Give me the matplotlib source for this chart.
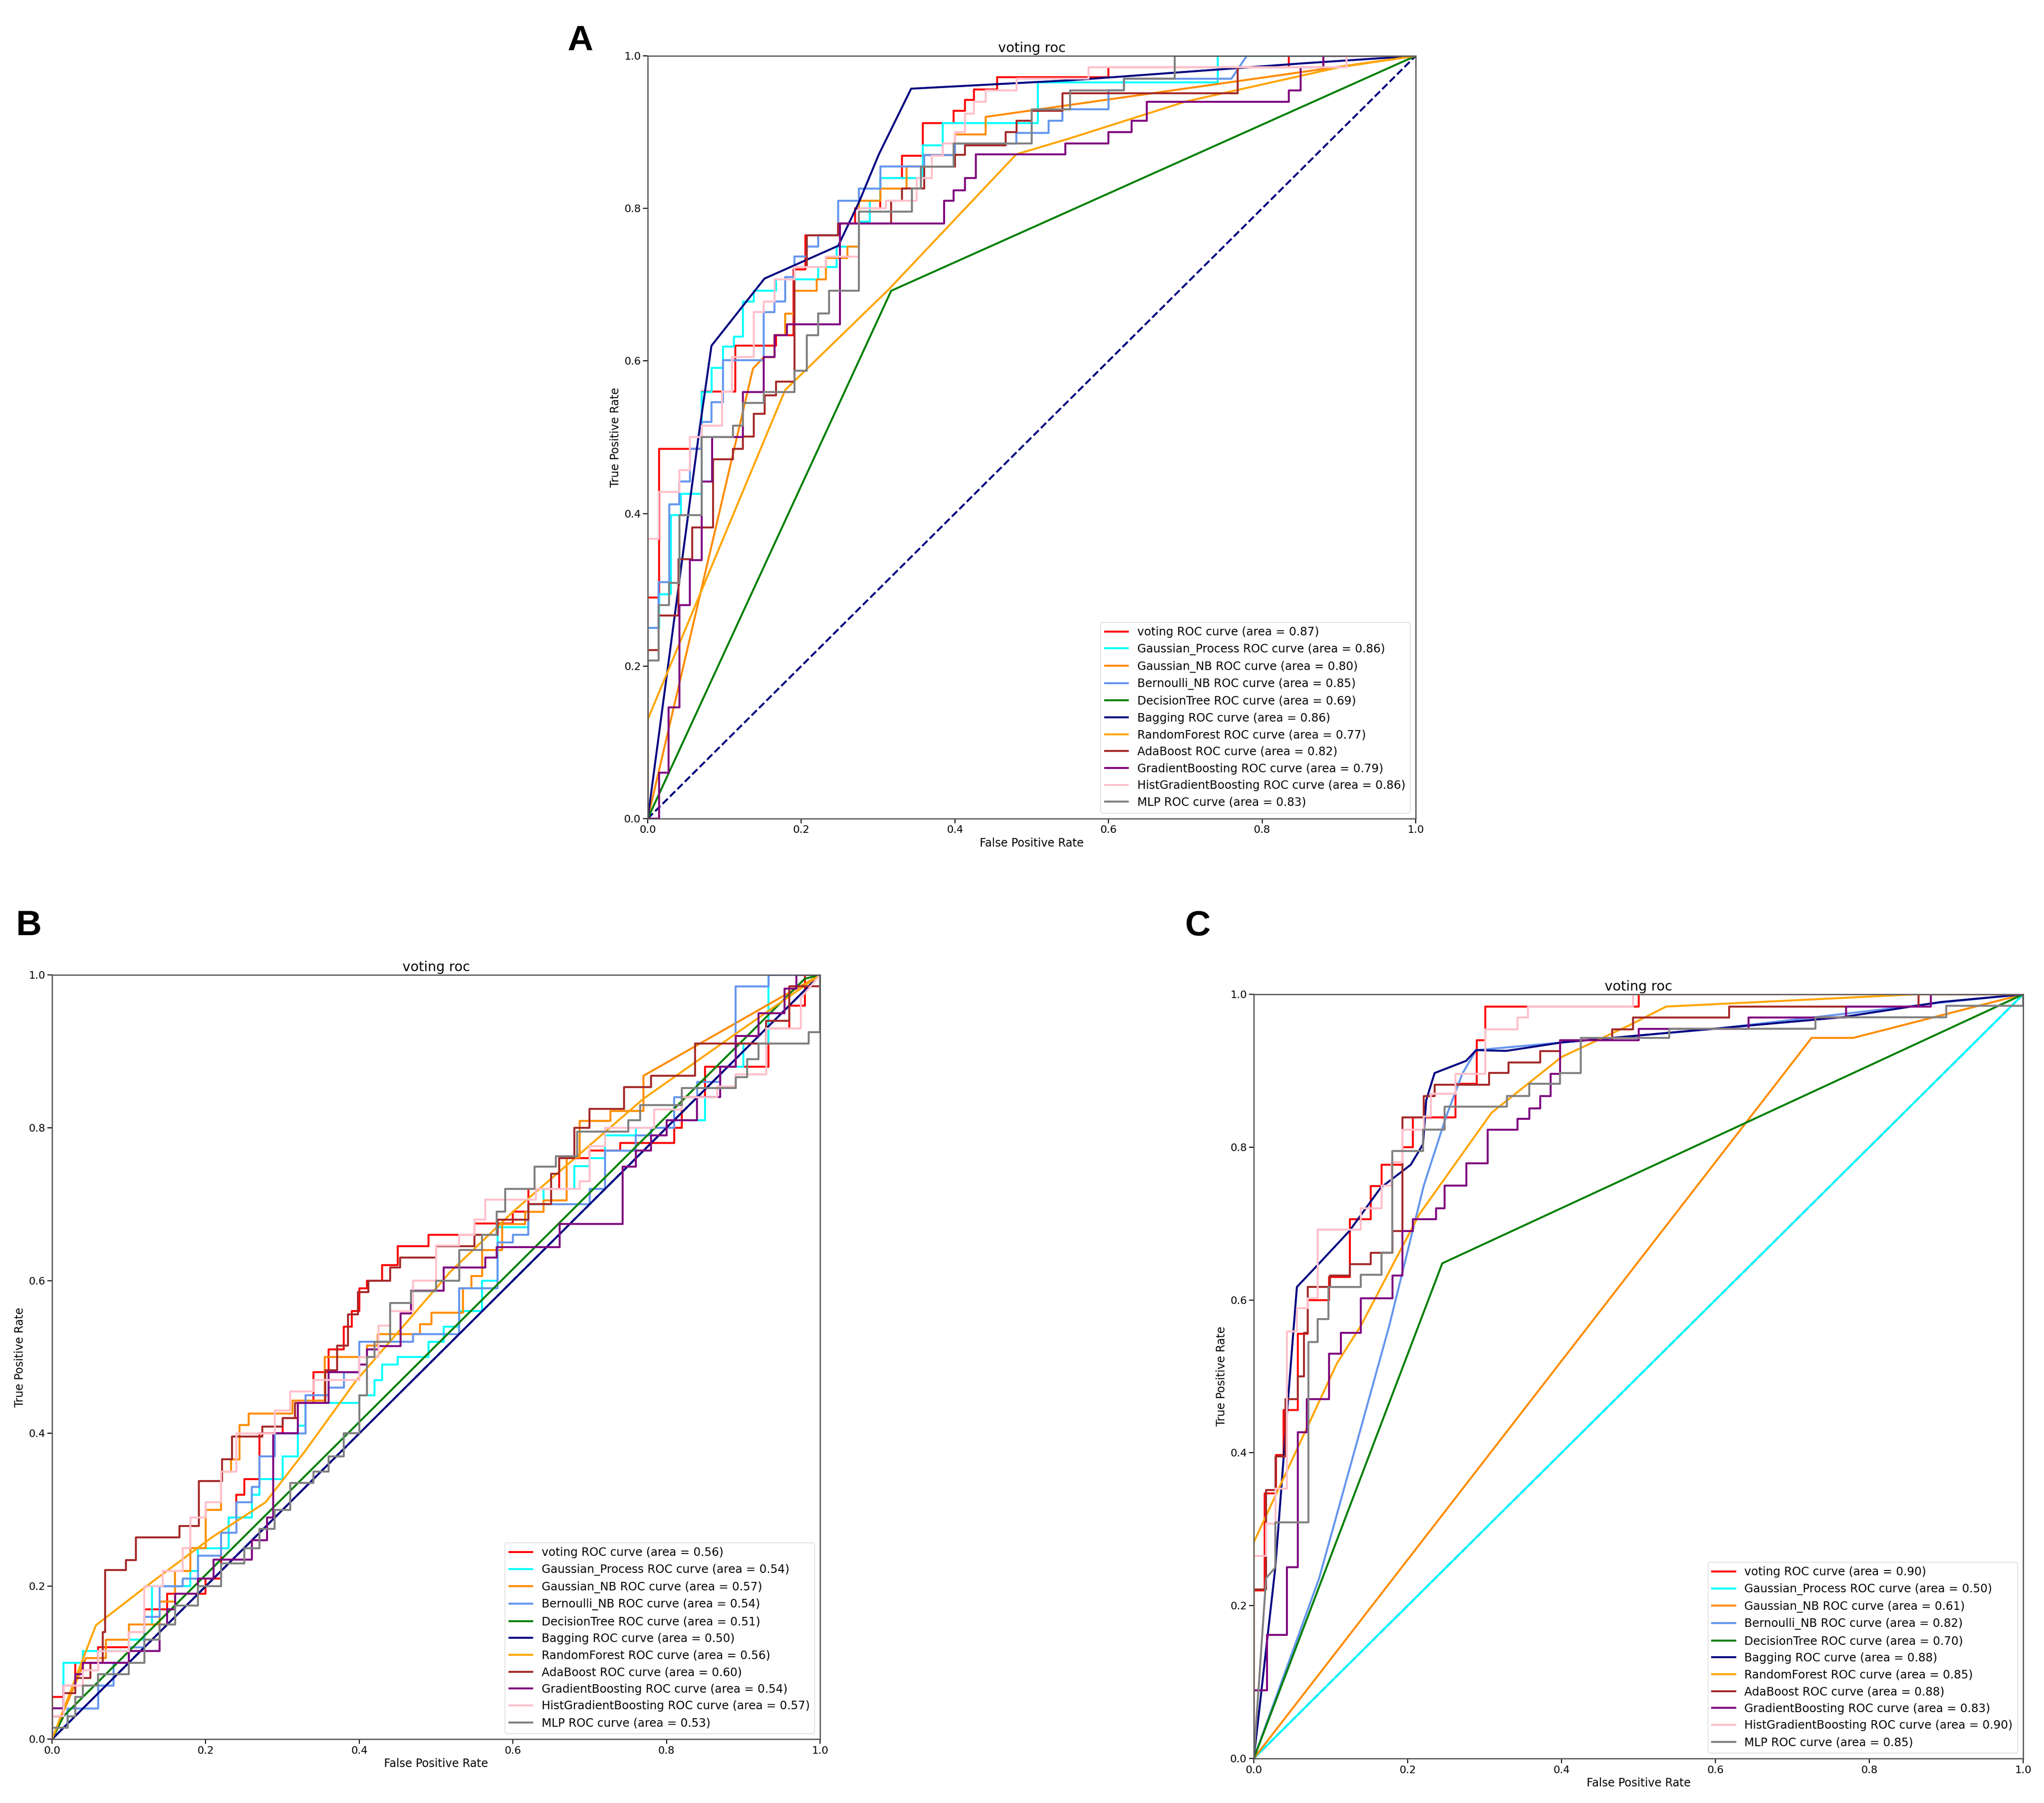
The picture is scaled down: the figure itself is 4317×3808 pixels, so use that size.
import numpy as np
import matplotlib.pyplot as plt

plt.rcParams['font.family'] = ['DejaVu Sans']
plt.rcParams['font.size'] = 17
plt.rcParams['xtick.labelsize'] = 16
plt.rcParams['ytick.labelsize'] = 16
plt.rcParams['axes.linewidth'] = 1.8
plt.rcParams['xtick.major.size'] = 7
plt.rcParams['ytick.major.size'] = 7
plt.rcParams['xtick.major.width'] = 1.6
plt.rcParams['ytick.major.width'] = 1.6

models = ["voting", "Gaussian_Process", "Gaussian_NB", "Bernoulli_NB", "DecisionTree",
          "Bagging", "RandomForest", "AdaBoost", "GradientBoosting",
          "HistGradientBoosting", "MLP"]
colors = ["red", "aqua", "darkorange", "cornflowerblue", "green", "navy",
          "orange", "brown", "purple", "pink", "gray"]

auc_A = [0.87, 0.86, 0.80, 0.85, 0.69, 0.86, 0.77, 0.82, 0.79, 0.86, 0.83]
auc_B = [0.56, 0.54, 0.57, 0.54, 0.51, 0.50, 0.56, 0.60, 0.54, 0.57, 0.53]
auc_C = [0.90, 0.50, 0.61, 0.82, 0.70, 0.88, 0.85, 0.88, 0.83, 0.90, 0.85]

# ---------------- panel A (fpr, tpr) ----------------
A_voting = [(0, 0), (0, 0.29), (0.015, 0.29), (0.015, 0.485), (0.07, 0.485), (0.07, 0.56),
            (0.114, 0.56), (0.114, 0.62), (0.167, 0.62), (0.167, 0.634), (0.19, 0.634),
            (0.19, 0.72), (0.205, 0.72), (0.205, 0.765), (0.25, 0.765), (0.25, 0.78),
            (0.27, 0.78), (0.27, 0.8), (0.303, 0.8), (0.303, 0.84), (0.331, 0.84),
            (0.331, 0.869), (0.358, 0.869), (0.358, 0.912), (0.398, 0.912), (0.398, 0.928),
            (0.413, 0.928), (0.413, 0.942), (0.425, 0.942), (0.425, 0.956), (0.455, 0.956),
            (0.455, 0.972), (0.6, 0.972), (0.6, 0.985), (0.835, 0.985), (0.835, 1.0), (1, 1)]
A_gp = [(0, 0), (0, 0.25), (0.015, 0.25), (0.015, 0.294), (0.03, 0.294), (0.03, 0.398),
        (0.043, 0.398), (0.043, 0.426), (0.07, 0.426), (0.07, 0.559), (0.083, 0.559),
        (0.083, 0.591), (0.098, 0.591), (0.098, 0.619), (0.112, 0.619), (0.112, 0.632),
        (0.124, 0.632), (0.124, 0.678), (0.138, 0.678), (0.138, 0.692), (0.167, 0.692),
        (0.167, 0.707), (0.222, 0.707), (0.222, 0.723), (0.246, 0.723), (0.246, 0.75),
        (0.275, 0.75), (0.275, 0.783), (0.289, 0.783), (0.289, 0.81), (0.303, 0.81),
        (0.303, 0.84), (0.358, 0.84), (0.358, 0.883), (0.384, 0.883), (0.384, 0.912),
        (0.508, 0.912), (0.508, 0.965), (0.742, 0.965), (0.742, 1.0), (1, 1)]
A_gnb = [(0, 0), (0.137, 0.59), (0.151, 0.605), (0.165, 0.605), (0.165, 0.634), (0.179, 0.634),
         (0.179, 0.662), (0.191, 0.662), (0.191, 0.692), (0.22, 0.692), (0.22, 0.707),
         (0.232, 0.707), (0.232, 0.735), (0.26, 0.735), (0.26, 0.75), (0.275, 0.75),
         (0.275, 0.81), (0.303, 0.81), (0.303, 0.826), (0.337, 0.826), (0.337, 0.855),
         (0.36, 0.855), (0.36, 0.87), (0.4, 0.87), (0.4, 0.897), (0.44, 0.897), (0.44, 0.92),
         (1, 1)]
A_bnb = [(0, 0), (0, 0.25), (0.014, 0.25), (0.014, 0.31), (0.028, 0.31), (0.028, 0.412),
         (0.041, 0.412), (0.041, 0.442), (0.055, 0.442), (0.055, 0.485), (0.07, 0.485),
         (0.07, 0.52), (0.083, 0.52), (0.083, 0.546), (0.098, 0.546), (0.098, 0.601),
         (0.151, 0.601), (0.151, 0.664), (0.165, 0.664), (0.165, 0.678), (0.179, 0.678),
         (0.179, 0.71), (0.191, 0.71), (0.191, 0.737), (0.207, 0.737), (0.207, 0.75),
         (0.222, 0.75), (0.222, 0.765), (0.248, 0.765), (0.248, 0.81), (0.275, 0.81),
         (0.275, 0.826), (0.303, 0.826), (0.303, 0.855), (0.36, 0.855), (0.36, 0.87),
         (0.4, 0.87), (0.4, 0.885), (0.48, 0.885), (0.48, 0.899), (0.522, 0.899),
         (0.522, 0.915), (0.54, 0.915), (0.54, 0.93), (0.6, 0.93), (0.6, 0.955),
         (0.62, 0.955), (0.62, 0.97), (0.76, 0.97), (0.78, 1.0), (1, 1)]
A_dt = [(0, 0), (0.317, 0.692), (1, 1)]
A_bag = [(0, 0), (0.066, 0.5), (0.083, 0.62), (0.152, 0.708), (0.248, 0.751), (0.275, 0.808),
         (0.301, 0.871), (0.343, 0.957), (0.55, 0.968), (0.85, 0.99), (1, 1)]
A_rf = [(0, 0), (0, 0.13), (0.179, 0.562), (0.314, 0.694), (0.48, 0.871), (0.55, 0.892),
        (0.7, 0.94), (0.9, 0.985), (1, 1)]
A_ada = [(0, 0), (0, 0.221), (0.014, 0.221), (0.014, 0.266), (0.04, 0.266), (0.04, 0.34),
         (0.058, 0.34), (0.058, 0.382), (0.085, 0.382), (0.085, 0.471), (0.111, 0.471),
         (0.111, 0.485), (0.124, 0.485), (0.124, 0.501), (0.138, 0.501), (0.138, 0.531),
         (0.152, 0.531), (0.152, 0.555), (0.167, 0.555), (0.167, 0.573), (0.191, 0.573),
         (0.191, 0.723), (0.207, 0.723), (0.207, 0.765), (0.248, 0.765), (0.248, 0.78),
         (0.317, 0.78), (0.317, 0.81), (0.331, 0.81), (0.331, 0.826), (0.36, 0.826),
         (0.36, 0.855), (0.4, 0.855), (0.4, 0.87), (0.413, 0.87), (0.413, 0.883),
         (0.466, 0.883), (0.466, 0.9), (0.48, 0.9), (0.48, 0.915), (0.5, 0.915),
         (0.5, 0.928), (0.54, 0.928), (0.54, 0.951), (0.768, 0.951), (0.768, 0.985),
         (0.88, 0.985), (0.88, 1.0), (1, 1)]
A_gb = [(0, 0), (0.015, 0), (0.015, 0.06), (0.027, 0.06), (0.027, 0.146), (0.041, 0.146),
        (0.041, 0.28), (0.055, 0.28), (0.055, 0.339), (0.07, 0.339), (0.07, 0.442),
        (0.084, 0.442), (0.084, 0.5), (0.124, 0.5), (0.124, 0.559), (0.151, 0.559),
        (0.151, 0.605), (0.165, 0.605), (0.165, 0.634), (0.181, 0.634), (0.181, 0.648),
        (0.25, 0.648), (0.25, 0.78), (0.386, 0.78), (0.386, 0.81), (0.398, 0.81),
        (0.398, 0.824), (0.413, 0.824), (0.413, 0.84), (0.427, 0.84), (0.427, 0.871),
        (0.544, 0.871), (0.544, 0.885), (0.6, 0.885), (0.6, 0.9), (0.63, 0.9),
        (0.63, 0.915), (0.65, 0.915), (0.65, 0.94), (0.835, 0.94), (0.835, 0.955),
        (0.85, 0.955), (0.85, 0.985), (0.88, 0.985), (0.88, 1.0), (1, 1)]
A_hgb = [(0, 0), (0, 0.367), (0.014, 0.367), (0.014, 0.428), (0.041, 0.428), (0.041, 0.457),
         (0.055, 0.457), (0.055, 0.5), (0.07, 0.5), (0.07, 0.515), (0.097, 0.515),
         (0.097, 0.56), (0.11, 0.56), (0.11, 0.605), (0.138, 0.605), (0.138, 0.664),
         (0.151, 0.664), (0.151, 0.678), (0.165, 0.678), (0.165, 0.707), (0.191, 0.707),
         (0.191, 0.723), (0.232, 0.723), (0.232, 0.737), (0.275, 0.737), (0.275, 0.8),
         (0.31, 0.8), (0.31, 0.81), (0.35, 0.81), (0.35, 0.84), (0.37, 0.84), (0.37, 0.869),
         (0.384, 0.869), (0.384, 0.885), (0.4, 0.885), (0.4, 0.9), (0.413, 0.9),
         (0.413, 0.924), (0.425, 0.924), (0.425, 0.94), (0.44, 0.94), (0.44, 0.955),
         (0.48, 0.955), (0.48, 0.97), (0.574, 0.97), (0.574, 0.985), (0.91, 0.985),
         (0.91, 1.0), (1, 1)]
A_mlp = [(0, 0), (0, 0.207), (0.014, 0.207), (0.014, 0.28), (0.028, 0.28), (0.028, 0.309),
         (0.041, 0.309), (0.041, 0.398), (0.07, 0.398), (0.07, 0.5), (0.111, 0.5),
         (0.111, 0.515), (0.124, 0.515), (0.124, 0.545), (0.151, 0.545), (0.151, 0.559),
         (0.191, 0.559), (0.191, 0.587), (0.207, 0.587), (0.207, 0.634), (0.222, 0.634),
         (0.222, 0.662), (0.236, 0.662), (0.236, 0.692), (0.275, 0.692), (0.275, 0.796),
         (0.344, 0.796), (0.344, 0.826), (0.356, 0.826), (0.356, 0.855), (0.398, 0.855),
         (0.398, 0.885), (0.5, 0.885), (0.5, 0.93), (0.55, 0.93), (0.55, 0.955),
         (0.62, 0.955), (0.62, 0.97), (0.686, 0.97), (0.686, 1.0), (1, 1)]

# ---------------- panel B ----------------
B_voting = [(0, 0), (0, 0.055), (0.015, 0.055), (0.015, 0.07), (0.03, 0.07), (0.03, 0.1),
            (0.06, 0.1), (0.06, 0.12), (0.1, 0.12), (0.1, 0.14), (0.12, 0.14), (0.12, 0.17),
            (0.15, 0.17), (0.15, 0.19), (0.2, 0.19), (0.2, 0.21), (0.22, 0.21), (0.22, 0.25),
            (0.23, 0.25), (0.23, 0.29), (0.24, 0.29), (0.24, 0.32), (0.25, 0.32), (0.25, 0.34),
            (0.27, 0.34), (0.27, 0.4), (0.3, 0.4), (0.3, 0.42), (0.32, 0.42), (0.32, 0.44),
            (0.34, 0.44), (0.34, 0.48), (0.36, 0.48), (0.36, 0.51), (0.38, 0.51), (0.38, 0.54),
            (0.39, 0.54), (0.39, 0.56), (0.4, 0.56), (0.4, 0.59), (0.41, 0.59), (0.41, 0.6),
            (0.43, 0.6), (0.43, 0.62), (0.45, 0.62), (0.45, 0.645), (0.49, 0.645),
            (0.49, 0.66), (0.55, 0.66), (0.55, 0.675), (0.6, 0.675), (0.6, 0.69), (0.62, 0.69),
            (0.62, 0.72), (0.66, 0.72), (0.66, 0.76), (0.7, 0.76), (0.7, 0.77), (0.74, 0.77),
            (0.74, 0.78), (0.81, 0.78), (0.81, 0.8), (0.82, 0.8), (0.82, 0.84), (0.85, 0.84),
            (0.85, 0.88), (0.933, 0.88), (0.933, 0.93), (0.96, 0.93), (0.96, 0.96),
            (0.98, 0.96), (0.98, 1.0), (1, 1)]
B_gp = [(0, 0), (0, 0.03), (0.015, 0.03), (0.015, 0.1), (0.04, 0.1), (0.04, 0.115),
        (0.1, 0.115), (0.1, 0.13), (0.12, 0.13), (0.12, 0.15), (0.13, 0.15), (0.13, 0.2),
        (0.18, 0.2), (0.18, 0.22), (0.19, 0.22), (0.19, 0.25), (0.23, 0.25), (0.23, 0.29),
        (0.26, 0.29), (0.26, 0.32), (0.27, 0.32), (0.27, 0.34), (0.3, 0.34), (0.3, 0.37),
        (0.32, 0.37), (0.32, 0.41), (0.33, 0.41), (0.33, 0.44), (0.4, 0.44), (0.4, 0.45),
        (0.42, 0.45), (0.42, 0.47), (0.43, 0.47), (0.43, 0.49), (0.45, 0.49), (0.45, 0.5),
        (0.49, 0.5), (0.49, 0.52), (0.51, 0.52), (0.51, 0.54), (0.53, 0.54), (0.53, 0.56),
        (0.56, 0.56), (0.56, 0.6), (0.58, 0.6), (0.58, 0.67), (0.62, 0.67), (0.62, 0.7),
        (0.64, 0.7), (0.64, 0.72), (0.68, 0.72), (0.68, 0.75), (0.7, 0.75), (0.7, 0.76),
        (0.72, 0.76), (0.72, 0.79), (0.76, 0.79), (0.76, 0.8), (0.8, 0.8), (0.8, 0.81),
        (0.85, 0.81), (0.85, 0.84), (0.87, 0.84), (0.87, 0.88), (0.9, 0.88), (0.9, 0.91),
        (0.933, 0.91), (0.933, 1.0), (1, 1)]
B_gnb = [(0, 0), (0.044, 0.106), (0.07, 0.106), (0.07, 0.13), (0.1, 0.13), (0.1, 0.15),
         (0.14, 0.15), (0.14, 0.18), (0.16, 0.18), (0.16, 0.22), (0.18, 0.22), (0.18, 0.25),
         (0.2, 0.25), (0.2, 0.3), (0.22, 0.3), (0.22, 0.35), (0.233, 0.35), (0.233, 0.366),
         (0.244, 0.366), (0.244, 0.411), (0.256, 0.411), (0.256, 0.426), (0.313, 0.426),
         (0.313, 0.443), (0.355, 0.443), (0.355, 0.5), (0.41, 0.5), (0.41, 0.515),
         (0.424, 0.515), (0.424, 0.53), (0.479, 0.53), (0.479, 0.543), (0.494, 0.543),
         (0.494, 0.558), (0.535, 0.558), (0.535, 0.59), (0.546, 0.59), (0.546, 0.606),
         (0.56, 0.606), (0.56, 0.64), (0.586, 0.64), (0.586, 0.674), (0.616, 0.674),
         (0.616, 0.69), (0.64, 0.69), (0.64, 0.705), (0.67, 0.705), (0.67, 0.761),
         (0.687, 0.761), (0.687, 0.809), (0.727, 0.809), (0.727, 0.822), (0.77, 0.822),
         (0.77, 0.868), (1, 1)]
B_bnb = [(0, 0), (0.02, 0.02), (0.02, 0.04), (0.06, 0.04), (0.06, 0.07), (0.08, 0.07),
         (0.08, 0.1), (0.1, 0.1), (0.1, 0.12), (0.12, 0.12), (0.12, 0.16), (0.14, 0.16),
         (0.14, 0.2), (0.17, 0.2), (0.17, 0.21), (0.19, 0.21), (0.19, 0.24), (0.22, 0.24),
         (0.22, 0.27), (0.24, 0.27), (0.24, 0.31), (0.26, 0.31), (0.26, 0.33), (0.27, 0.33),
         (0.27, 0.37), (0.29, 0.37), (0.29, 0.4), (0.33, 0.4), (0.33, 0.45), (0.36, 0.45),
         (0.36, 0.46), (0.38, 0.46), (0.38, 0.48), (0.4, 0.48), (0.4, 0.52), (0.47, 0.52),
         (0.47, 0.53), (0.53, 0.53), (0.53, 0.59), (0.58, 0.59), (0.58, 0.65), (0.6, 0.65),
         (0.6, 0.66), (0.62, 0.66), (0.62, 0.7), (0.7, 0.7), (0.7, 0.72), (0.72, 0.72),
         (0.72, 0.77), (0.76, 0.77), (0.76, 0.79), (0.78, 0.79), (0.78, 0.8), (0.81, 0.8),
         (0.81, 0.84), (0.84, 0.84), (0.84, 0.86), (0.87, 0.86), (0.87, 0.88), (0.89, 0.88),
         (0.89, 0.985), (0.933, 0.985), (0.933, 1.0), (1, 1)]
B_dt = [(0, 0), (0.015, 0.03), (0.98, 0.995), (1, 1)]
B_bag = [(0, 0), (1, 1)]
B_rf = [(0, 0), (0.057, 0.149), (0.128, 0.204), (0.208, 0.264), (0.278, 0.31), (0.328, 0.375),
        (0.395, 0.468), (0.518, 0.611), (0.6, 0.69), (0.77, 0.838), (0.9, 0.93), (1, 1)]
B_ada = [(0, 0), (0, 0.03), (0.015, 0.03), (0.015, 0.06), (0.03, 0.06), (0.03, 0.08),
         (0.05, 0.08), (0.05, 0.1), (0.066, 0.1), (0.066, 0.14), (0.069, 0.14), (0.069, 0.221),
         (0.096, 0.221), (0.096, 0.234), (0.109, 0.234), (0.109, 0.264), (0.166, 0.264),
         (0.166, 0.279), (0.191, 0.279), (0.191, 0.338), (0.221, 0.338), (0.221, 0.366),
         (0.234, 0.366), (0.234, 0.396), (0.274, 0.396), (0.274, 0.409), (0.3, 0.409),
         (0.3, 0.42), (0.316, 0.42), (0.316, 0.44), (0.356, 0.44), (0.356, 0.483),
         (0.371, 0.483), (0.371, 0.515), (0.385, 0.515), (0.385, 0.556), (0.398, 0.556),
         (0.398, 0.585), (0.412, 0.585), (0.412, 0.6), (0.44, 0.6), (0.44, 0.617),
         (0.453, 0.617), (0.453, 0.63), (0.5, 0.63), (0.5, 0.645), (0.55, 0.645),
         (0.55, 0.66), (0.58, 0.66), (0.58, 0.68), (0.62, 0.68), (0.62, 0.7), (0.65, 0.7),
         (0.65, 0.74), (0.66, 0.74), (0.66, 0.76), (0.68, 0.76), (0.68, 0.8), (0.7, 0.8),
         (0.7, 0.825), (0.745, 0.825), (0.745, 0.853), (0.78, 0.853), (0.78, 0.868),
         (0.837, 0.868), (0.837, 0.91), (0.93, 0.91), (0.93, 0.94), (0.96, 0.94),
         (0.96, 0.985), (1.0, 0.985), (1, 1)]
B_gb = [(0, 0), (0, 0.04), (0.015, 0.04), (0.015, 0.07), (0.03, 0.07), (0.03, 0.085),
        (0.04, 0.085), (0.04, 0.1), (0.1, 0.1), (0.1, 0.115), (0.14, 0.115), (0.14, 0.15),
        (0.15, 0.15), (0.15, 0.17), (0.16, 0.17), (0.16, 0.19), (0.19, 0.19), (0.19, 0.21),
        (0.21, 0.21), (0.21, 0.235), (0.26, 0.235), (0.26, 0.26), (0.28, 0.26), (0.28, 0.29),
        (0.288, 0.29), (0.288, 0.4), (0.32, 0.4), (0.32, 0.44), (0.36, 0.44), (0.36, 0.48),
        (0.4, 0.48), (0.4, 0.49), (0.41, 0.49), (0.41, 0.51), (0.425, 0.51), (0.425, 0.514),
        (0.454, 0.514), (0.454, 0.557), (0.467, 0.557), (0.467, 0.587), (0.51, 0.587),
        (0.51, 0.617), (0.564, 0.617), (0.564, 0.63), (0.579, 0.63), (0.579, 0.644),
        (0.661, 0.644), (0.661, 0.674), (0.743, 0.674), (0.743, 0.749), (0.76, 0.749),
        (0.76, 0.77), (0.78, 0.77), (0.78, 0.79), (0.8, 0.79), (0.8, 0.81), (0.84, 0.81),
        (0.84, 0.84), (0.87, 0.84), (0.87, 0.88), (0.89, 0.88), (0.89, 0.92), (0.92, 0.92),
        (0.92, 0.95), (0.954, 0.95), (0.954, 0.982), (0.969, 0.982), (0.969, 1.0), (1, 1)]
B_hgb = [(0, 0), (0, 0.03), (0.015, 0.03), (0.015, 0.07), (0.04, 0.07), (0.04, 0.09),
         (0.06, 0.09), (0.06, 0.115), (0.1, 0.115), (0.1, 0.14), (0.12, 0.14), (0.12, 0.2),
         (0.144, 0.2), (0.144, 0.22), (0.17, 0.22), (0.17, 0.25), (0.18, 0.25), (0.18, 0.29),
         (0.2, 0.29), (0.2, 0.31), (0.22, 0.31), (0.22, 0.35), (0.24, 0.35), (0.24, 0.4),
         (0.29, 0.4), (0.29, 0.43), (0.31, 0.43), (0.31, 0.455), (0.34, 0.455), (0.34, 0.47),
         (0.4, 0.47), (0.4, 0.5), (0.425, 0.5), (0.425, 0.541), (0.44, 0.541), (0.44, 0.56),
         (0.47, 0.56), (0.47, 0.6), (0.5, 0.6), (0.5, 0.646), (0.53, 0.646), (0.53, 0.66),
         (0.55, 0.66), (0.55, 0.68), (0.564, 0.68), (0.564, 0.706), (0.63, 0.706),
         (0.63, 0.72), (0.687, 0.72), (0.687, 0.73), (0.7, 0.73), (0.7, 0.776), (0.72, 0.776),
         (0.72, 0.8), (0.784, 0.8), (0.784, 0.824), (0.82, 0.824), (0.82, 0.84),
         (0.866, 0.84), (0.866, 0.854), (0.89, 0.854), (0.89, 0.87), (0.93, 0.87),
         (0.93, 0.93), (0.975, 0.93), (0.975, 0.97), (1, 1)]
B_mlp = [(0, 0), (0, 0.015), (0.02, 0.015), (0.02, 0.03), (0.03, 0.03), (0.03, 0.055),
         (0.04, 0.055), (0.04, 0.07), (0.06, 0.07), (0.06, 0.085), (0.1, 0.085), (0.1, 0.1),
         (0.12, 0.1), (0.12, 0.13), (0.14, 0.13), (0.14, 0.15), (0.16, 0.15), (0.16, 0.175),
         (0.19, 0.175), (0.19, 0.2), (0.22, 0.2), (0.22, 0.23), (0.25, 0.23), (0.25, 0.25),
         (0.27, 0.25), (0.27, 0.275), (0.29, 0.275), (0.29, 0.3), (0.31, 0.3), (0.31, 0.335),
         (0.34, 0.335), (0.34, 0.35), (0.36, 0.35), (0.36, 0.37), (0.38, 0.37), (0.38, 0.4),
         (0.4, 0.4), (0.4, 0.45), (0.41, 0.45), (0.41, 0.5), (0.42, 0.5), (0.42, 0.52),
         (0.44, 0.52), (0.44, 0.571), (0.467, 0.571), (0.467, 0.586), (0.5, 0.586),
         (0.5, 0.6), (0.53, 0.6), (0.53, 0.64), (0.56, 0.64), (0.56, 0.66), (0.579, 0.66),
         (0.579, 0.69), (0.59, 0.69), (0.59, 0.72), (0.628, 0.72), (0.628, 0.749),
         (0.656, 0.749), (0.656, 0.763), (0.684, 0.763), (0.684, 0.795), (0.75, 0.795),
         (0.75, 0.81), (0.766, 0.81), (0.766, 0.83), (0.82, 0.83), (0.82, 0.852),
         (0.89, 0.852), (0.89, 0.866), (0.905, 0.866), (0.905, 0.89), (0.92, 0.89),
         (0.92, 0.91), (0.985, 0.91), (0.985, 0.925), (1.0, 0.925), (1, 1)]

# ---------------- panel C ----------------
C_voting = [(0, 0), (0, 0.22), (0.014, 0.22), (0.014, 0.347), (0.029, 0.347), (0.029, 0.397),
            (0.039, 0.397), (0.039, 0.456), (0.057, 0.456), (0.057, 0.556), (0.07, 0.556),
            (0.07, 0.6), (0.098, 0.6), (0.098, 0.63), (0.125, 0.63), (0.125, 0.706),
            (0.152, 0.706), (0.152, 0.749), (0.166, 0.749), (0.166, 0.777), (0.193, 0.777),
            (0.193, 0.8), (0.207, 0.8), (0.207, 0.839), (0.262, 0.839), (0.262, 0.883),
            (0.29, 0.883), (0.29, 0.94), (0.301, 0.94), (0.301, 0.984), (0.5, 0.984),
            (0.5, 1.0), (1, 1)]
C_gp = [(0, 0), (1, 1)]
C_gnb = [(0, 0), (0.725, 0.943), (0.779, 0.943), (1, 1)]
C_bnb = [(0, 0), (0.085, 0.236), (0.176, 0.566), (0.221, 0.75), (0.25, 0.84), (0.271, 0.896),
         (0.289, 0.927), (0.4, 0.937), (0.6, 0.955), (0.9, 0.99), (1, 1)]
C_dt = [(0, 0), (0.245, 0.648), (1, 1)]
C_bag = [(0, 0), (0.028, 0.25), (0.044, 0.463), (0.056, 0.617), (0.086, 0.649), (0.124, 0.69),
         (0.165, 0.747), (0.204, 0.777), (0.22, 0.804), (0.224, 0.861), (0.235, 0.897),
         (0.276, 0.913), (0.289, 0.927), (0.328, 0.926), (0.4, 0.937), (0.487, 0.945),
         (0.62, 0.957), (0.764, 0.97), (0.893, 0.99), (1, 1)]
C_rf = [(0, 0), (0, 0.283), (0.108, 0.517), (0.139, 0.566), (0.215, 0.712), (0.309, 0.845),
        (0.4, 0.918), (0.487, 0.959), (0.536, 0.984), (0.86, 1.0), (1, 1)]
C_ada = [(0, 0), (0, 0.221), (0.016, 0.221), (0.016, 0.351), (0.028, 0.351), (0.028, 0.395),
         (0.041, 0.395), (0.041, 0.47), (0.057, 0.47), (0.057, 0.5), (0.065, 0.5),
         (0.065, 0.557), (0.07, 0.557), (0.07, 0.617), (0.099, 0.617), (0.099, 0.632),
         (0.125, 0.632), (0.125, 0.647), (0.152, 0.647), (0.152, 0.662), (0.18, 0.662),
         (0.18, 0.69), (0.193, 0.69), (0.193, 0.839), (0.221, 0.839), (0.221, 0.867),
         (0.235, 0.867), (0.235, 0.882), (0.306, 0.882), (0.306, 0.897), (0.331, 0.897),
         (0.331, 0.911), (0.372, 0.911), (0.372, 0.926), (0.398, 0.926), (0.398, 0.94),
         (0.466, 0.94), (0.466, 0.954), (0.493, 0.954), (0.493, 0.97), (0.618, 0.97),
         (0.618, 0.984), (0.864, 0.984), (0.864, 1.0), (1, 1)]
C_gb = [(0, 0), (0, 0.089), (0.017, 0.089), (0.017, 0.162), (0.043, 0.162), (0.043, 0.25),
        (0.057, 0.25), (0.057, 0.427), (0.069, 0.427), (0.069, 0.47), (0.098, 0.47),
        (0.098, 0.53), (0.113, 0.53), (0.113, 0.557), (0.139, 0.557), (0.139, 0.602),
        (0.18, 0.602), (0.18, 0.632), (0.193, 0.632), (0.193, 0.69), (0.207, 0.69),
        (0.207, 0.706), (0.237, 0.706), (0.237, 0.72), (0.248, 0.72), (0.248, 0.75),
        (0.276, 0.75), (0.276, 0.779), (0.304, 0.779), (0.304, 0.823), (0.343, 0.823),
        (0.343, 0.837), (0.358, 0.837), (0.358, 0.851), (0.372, 0.851), (0.372, 0.867),
        (0.386, 0.867), (0.386, 0.896), (0.398, 0.896), (0.398, 0.94), (0.5, 0.94),
        (0.5, 0.955), (0.643, 0.955), (0.643, 0.97), (0.77, 0.97), (0.77, 0.984),
        (0.88, 0.984), (0.88, 1.0), (1, 1)]
C_hgb = [(0, 0), (0, 0.265), (0.016, 0.265), (0.016, 0.307), (0.028, 0.307), (0.028, 0.353),
         (0.043, 0.353), (0.043, 0.559), (0.056, 0.559), (0.056, 0.589), (0.07, 0.589),
         (0.07, 0.602), (0.083, 0.602), (0.083, 0.692), (0.139, 0.692), (0.139, 0.72),
         (0.166, 0.72), (0.166, 0.75), (0.179, 0.75), (0.179, 0.78), (0.193, 0.78),
         (0.193, 0.823), (0.221, 0.823), (0.221, 0.84), (0.23, 0.84), (0.23, 0.87),
         (0.262, 0.87), (0.262, 0.896), (0.301, 0.896), (0.301, 0.954), (0.343, 0.954),
         (0.343, 0.97), (0.356, 0.97), (0.356, 0.984), (0.493, 0.984), (0.493, 1.0), (1, 1)]
C_mlp = [(0, 0), (0.016, 0.236), (0.028, 0.25), (0.028, 0.309), (0.071, 0.309), (0.071, 0.545),
         (0.083, 0.545), (0.083, 0.575), (0.097, 0.575), (0.097, 0.617), (0.139, 0.617),
         (0.139, 0.633), (0.166, 0.633), (0.166, 0.662), (0.18, 0.662), (0.18, 0.795),
         (0.22, 0.795), (0.22, 0.823), (0.248, 0.823), (0.248, 0.853), (0.329, 0.853),
         (0.329, 0.867), (0.358, 0.867), (0.358, 0.883), (0.398, 0.883), (0.398, 0.897),
         (0.425, 0.897), (0.425, 0.943), (0.54, 0.943), (0.54, 0.955), (0.73, 0.955),
         (0.73, 0.97), (0.9, 0.97), (0.9, 0.985), (1.0, 0.985), (1, 1)]

curves_A = [A_voting, A_gp, A_gnb, A_bnb, A_dt, A_bag, A_rf, A_ada, A_gb, A_hgb, A_mlp]
curves_B = [B_voting, B_gp, B_gnb, B_bnb, B_dt, B_bag, B_rf, B_ada, B_gb, B_hgb, B_mlp]
curves_C = [C_voting, C_gp, C_gnb, C_bnb, C_dt, C_bag, C_rf, C_ada, C_gb, C_hgb, C_mlp]

lw = 3
fig = plt.figure(figsize=(43.17, 38.08), dpi=100)


def draw_panel(rect, curves, aucs, letter, letter_pos):
    ax = fig.add_axes(rect)
    ax.plot([0, 1], [0, 1], color='navy', lw=lw, linestyle='--')
    for name, color, pts, auc in zip(models, colors, curves, aucs):
        pts = np.array(pts)
        ax.plot(pts[:, 0], pts[:, 1], color=color, lw=lw,
                label='%s ROC curve (area = %0.2f)' % (name, auc))
    ax.set_xlim([0.0, 1.0])
    ax.set_ylim([0.0, 1.0])
    ax.set_xticks([0, 0.2, 0.4, 0.6, 0.8, 1.0])
    ax.set_yticks([0, 0.2, 0.4, 0.6, 0.8, 1.0])
    ax.set_xlabel('False Positive Rate')
    ax.set_ylabel('True Positive Rate')
    ax.set_title('voting roc', fontsize=20.5)
    for s in ax.spines.values():
        s.set_color('0.3')
    ax.legend(loc='lower right', fontsize=17.5, labelspacing=0.48)
    fig.text(letter_pos[0], letter_pos[1], letter, fontsize=54, fontweight='bold',
             family='Liberation Sans', ha='center', va='baseline')
    return ax


draw_panel([0.3169, 0.5460, 0.3757, 0.4230], curves_A, auc_A, 'A', (0.2838, 0.9722))
draw_panel([0.0255, 0.03545, 0.3757, 0.4238], curves_B, auc_B, 'B', (0.0141, 0.4813))
draw_panel([0.6134, 0.0247, 0.3764, 0.4238], curves_C, auc_C, 'C', (0.5860, 0.4813))

fig.savefig('out.png', dpi=100)
